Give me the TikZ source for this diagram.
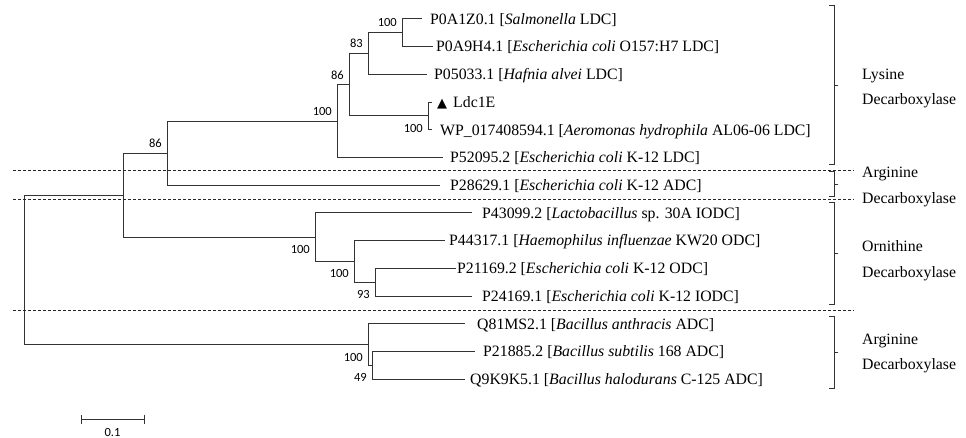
\documentclass[tikz,border=0pt]{standalone}
\usepackage{fontspec}
\setmainfont{Liberation Serif}
\newfontfamily\bsfont{Carlito}
\newfontfamily\symfont{DejaVu Sans}
\usetikzlibrary{calc}
\begin{document}
\begin{tikzpicture}[x=1pt,y=-1pt,
  branch/.style={line width=1pt, draw=black!80},
  sepline/.style={line width=0.7pt, draw=black!85, dash pattern=on 3pt off 2pt},
  brk/.style={line width=1pt, draw=black!80},
  leaf/.style={anchor=base west, inner sep=0pt, yshift=-5.3pt, font=\fontsize{15.8}{19}\selectfont},
  clade/.style={anchor=base west, inner sep=0pt, font=\fontsize{15.8}{19}\selectfont},
  bs/.style={inner sep=0pt, font=\bsfont\fontsize{12.5}{14}\selectfont},
  bsup/.style={bs, anchor=east},
  bsdn/.style={bs, anchor=east}]
\useasboundingbox (0,0) rectangle (966,438);

% internal nodes
\coordinate (H) at (402,32.85);
\coordinate (F) at (368,53.6);
\coordinate (G) at (428,115.95);
\coordinate (E) at (349,84.8);
\coordinate (D) at (337,121.15);
\coordinate (C) at (167,153.2);
\coordinate (S) at (375,282.15);
\coordinate (Q) at (354,261.4);
\coordinate (O) at (315,237.15);
\coordinate (A) at (123,195.2);
\coordinate (T) at (372,365.25);
\coordinate (B) at (368,344.5);
\coordinate (R) at (24,269.85);

% leaf tips
\coordinate (t0) at (422,19);
\coordinate (t1) at (433,46.7);
\coordinate (t2) at (427,74.4);
\coordinate (t3) at (432,102.1);
\coordinate (t4) at (432,129.8);
\coordinate (t5) at (443,157.5);
\coordinate (t6) at (440,185.2);
\coordinate (t7) at (472,212.9);
\coordinate (t8) at (445,240.6);
\coordinate (t9) at (456,268.3);
\coordinate (t10) at (472,296);
\coordinate (t11) at (465,323.7);
\coordinate (t12) at (475,351.4);
\coordinate (t13) at (465,379.1);

% branches
\draw[branch] (R) |- (A);
\draw[branch] (R) |- (B);
\draw[branch] (A) |- (C);
\draw[branch] (A) |- (O);
\draw[branch] (C) |- (D);
\draw[branch] (C) |- (t6);
\draw[branch] (D) |- (E);
\draw[branch] (D) |- (t5);
\draw[branch] (E) |- (F);
\draw[branch] (E) |- (G);
\draw[branch] (F) |- (H);
\draw[branch] (F) |- (t2);
\draw[branch] (H) |- (t0);
\draw[branch] (H) |- (t1);
\draw[branch] (G) |- (t3);
\draw[branch] (G) |- (t4);
\draw[branch] (O) |- (t7);
\draw[branch] (O) |- (Q);
\draw[branch] (Q) |- (t8);
\draw[branch] (Q) |- (S);
\draw[branch] (S) |- (t9);
\draw[branch] (S) |- (t10);
\draw[branch] (B) |- (t11);
\draw[branch] (B) |- (T);
\draw[branch] (T) |- (t12);
\draw[branch] (T) |- (t13);

% bootstrap values
\node[bsup] (bH) at ($(H)+(-5,-10)$) {100};
\node[bsup] (bF) at ($(F)+(-5,-10)$) {83};
\node[bsup] (bE) at ($(E)+(-5,-10)$) {86};
\node[bsup] (bD) at ($(D)+(-5,-10)$) {100};
\node[bsup] (bC) at ($(C)+(-5,-10)$) {86};
\node[bsdn] (bG) at ($(G)+(-5,12.5)$) {100};
\node[bsdn] (bO) at ($(O)+(-5,12.5)$) {100};
\node[bsdn] (bQ) at ($(Q)+(-5,12.5)$) {100};
\node[bsdn] (bS) at ($(S)+(-5,12.5)$) {93};
\node[bsdn] (bB) at ($(B)+(-5,12.5)$) {100};
\node[bsdn] (bT) at ($(T)+(-5,12.5)$) {49};

% leaf labels
\node[leaf] (l0) at (430,19) {P0A1Z0.1 [\textit{Salmonella} LDC]};
\node[leaf] (l1) at (436,46.7) {P0A9H4.1 [\textit{Escherichia coli} O157:H7 LDC]};
\node[leaf] (l2) at (434,74.4) {P05033.1 [\textit{Hafnia alvei} LDC]};
\node[leaf] (l3) at (437,102.1) {{\symfont\fontsize{13}{15}\selectfont ▲}\hspace{6pt}Ldc1E};
\node[leaf] (l4) at (440,129.8) {WP\_017408594.1 [\textit{Aeromonas hydrophila} AL06-06 LDC]};
\node[leaf] (l5) at (450,157.5) {P52095.2 [\textit{Escherichia coli} K-12 LDC]};
\node[leaf] (l6) at (450,185.2) {P28629.1 [\textit{Escherichia coli} K-12 ADC]};
\node[leaf] (l7) at (482,212.9) {P43099.2 [\textit{Lactobacillus} sp. 30A IODC]};
\node[leaf] (l8) at (449,240.6) {P44317.1 [\textit{Haemophilus influenzae} KW20 ODC]};
\node[leaf] (l9) at (457,268.3) {P21169.2 [\textit{Escherichia coli} K-12 ODC]};
\node[leaf] (l10) at (482,296) {P24169.1 [\textit{Escherichia coli} K-12 IODC]};
\node[leaf] (l11) at (477,323.7) {Q81MS2.1 [\textit{Bacillus anthracis} ADC]};
\node[leaf] (l12) at (483,351.4) {P21885.2 [\textit{Bacillus subtilis} 168 ADC]};
\node[leaf] (l13) at (470,379.1) {Q9K9K5.1 [\textit{Bacillus halodurans} C-125 ADC]};

% separator lines
\draw[sepline] (13,170) -- (854,170);
\draw[sepline] (13,199) -- (854,199);
\draw[sepline] (13,310) -- (854,310);

% brackets
\draw[brk] (829,6) -- (834,6) -- (834,165) -- (829,165);
\draw[brk] (834,85.5) -- (838,85.5);
\draw[brk] (829,172) -- (834,172) -- (834,197) -- (829,197);
\draw[brk] (834,184.5) -- (838,184.5);
\draw[brk] (829,203) -- (834,203) -- (834,304) -- (829,304);
\draw[brk] (834,253.5) -- (838,253.5);
\draw[brk] (829,316) -- (834,316) -- (834,388) -- (829,388);
\draw[brk] (834,352) -- (838,352);

% clade labels
\node[clade] (c1a) at (862,80) {Lysine};
\node[clade] (c1b) at (862,105) {Decarboxylase};
\node[clade] (c2a) at (862,178) {Arginine};
\node[clade] (c2b) at (862,204) {Decarboxylase};
\node[clade] (c3a) at (862,252) {Ornithine};
\node[clade] (c3b) at (862,277) {Decarboxylase};
\node[clade] (c4a) at (862,344) {Arginine};
\node[clade] (c4b) at (862,369) {Decarboxylase};

% scale bar
\coordinate (s0) at (81,419);
\coordinate (s1) at (144,419);
\draw[branch] (s0) -- (s1);
\draw[branch] ($(s0)+(0,-4.5)$) -- ($(s0)+(0,4.5)$);
\draw[branch] ($(s1)+(0,-4.5)$) -- ($(s1)+(0,4.5)$);
\node[bs] (sl) at (112.5,432) {0.1};
\end{tikzpicture}
\end{document}
